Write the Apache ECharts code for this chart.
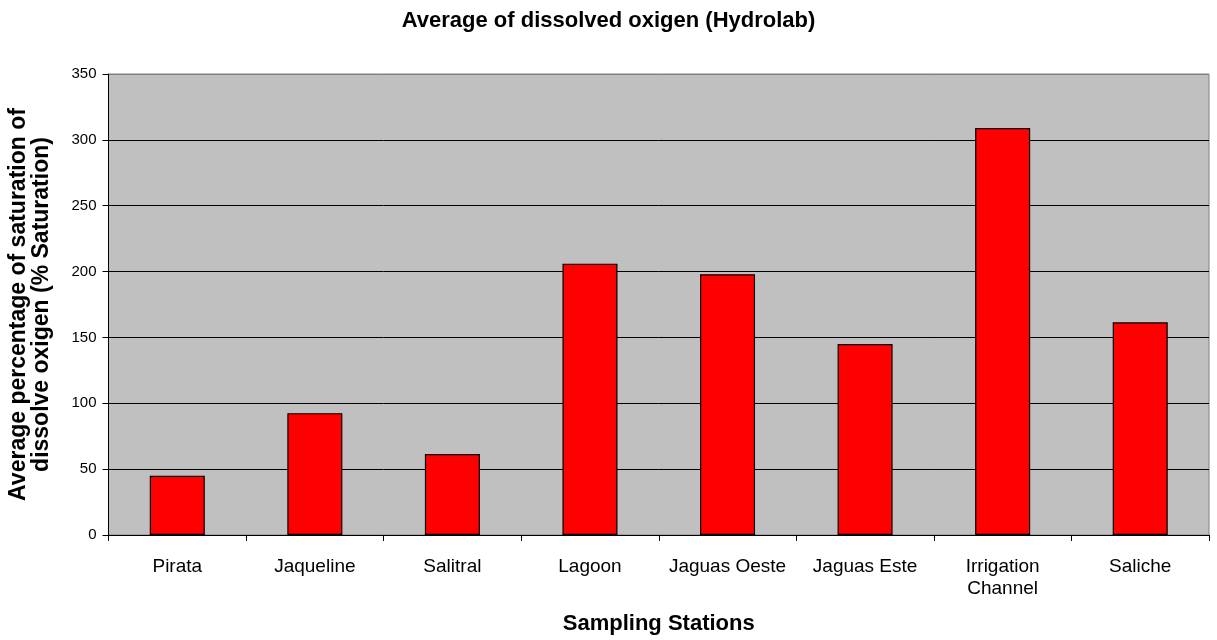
<!DOCTYPE html>
<html>
<head>
<meta charset="utf-8">
<script src="https://cdn.jsdelivr.net/npm/echarts@6/dist/echarts.min.js"></script>
<style>html,body{margin:0;padding:0;background:#fff;}#c{width:1217px;height:640px;}</style>
</head>
<body>
<div id="c"></div>
<script>
const categories = ['Pirata', 'Jaqueline', 'Salitral', 'Lagoon', 'Jaguas Oeste', 'Jaguas Este', 'Irrigation\nChannel', 'Saliche'];
const values = [45, 92.5, 61.5, 206, 198, 145, 309, 161.5];
const yTicks = [0, 50, 100, 150, 200, 250, 300, 350];

const chart = echarts.init(document.getElementById('c'));
chart.setOption({
  animation: false,
  backgroundColor: '#ffffff',
  textStyle: { fontFamily: 'Liberation Sans, Arial, sans-serif' },
  title: {
    text: 'Average of dissolved oxigen (Hydrolab)',
    left: 'center', top: 5,
    textStyle: { fontSize: 22, fontWeight: 'bold', color: '#000', fontFamily: 'Liberation Sans, Arial, sans-serif' }
  },
  grid: { left: 108.5, top: 74, right: 8, bottom: 105, outerBoundsMode: 'none', containLabel: false, show: true, backgroundColor: '#c0c0c0', borderColor: '#808080', borderWidth: 1 },
  xAxis: {
    type: 'category',
    data: categories,
    name: 'Sampling Stations',
    nameLocation: 'middle',
    nameGap: 78,
    nameTextStyle: { fontSize: 22, fontWeight: 'bold', color: '#000' },
    axisLine: { lineStyle: { color: '#000', width: 1 } },
    axisTick: { show: true, alignWithLabel: false, length: 6, lineStyle: { color: '#000' } },
    axisLabel: { color: '#000', fontSize: 19, margin: 21, interval: 0, lineHeight: 22 }
  },
  yAxis: {
    type: 'value',
    min: 0, max: yTicks[yTicks.length - 1], interval: 50,
    name: 'Average percentage of saturation of\ndissolve oxigen (% Saturation)',
    nameLocation: 'middle',
    nameGap: 55,
    nameTextStyle: { fontSize: 23, fontWeight: 'bold', color: '#000', lineHeight: 23 },
    axisLine: { show: true, lineStyle: { color: '#000', width: 1 } },
    axisTick: { show: true, inside: false, length: 6, lineStyle: { color: '#000' } },
    axisLabel: { color: '#000', fontSize: 15, margin: 12 },
    splitLine: { show: true, lineStyle: { color: ['#000', '#000', '#000', '#000', '#000', '#000', '#000', '#808080'], width: 1 } }
  },
  series: [{
    type: 'bar',
    data: values,
    barWidth: '40%',
    itemStyle: { color: '#ff0000', borderColor: '#000', borderWidth: 1.2 }
  }]
});
</script>
</body>
</html>
